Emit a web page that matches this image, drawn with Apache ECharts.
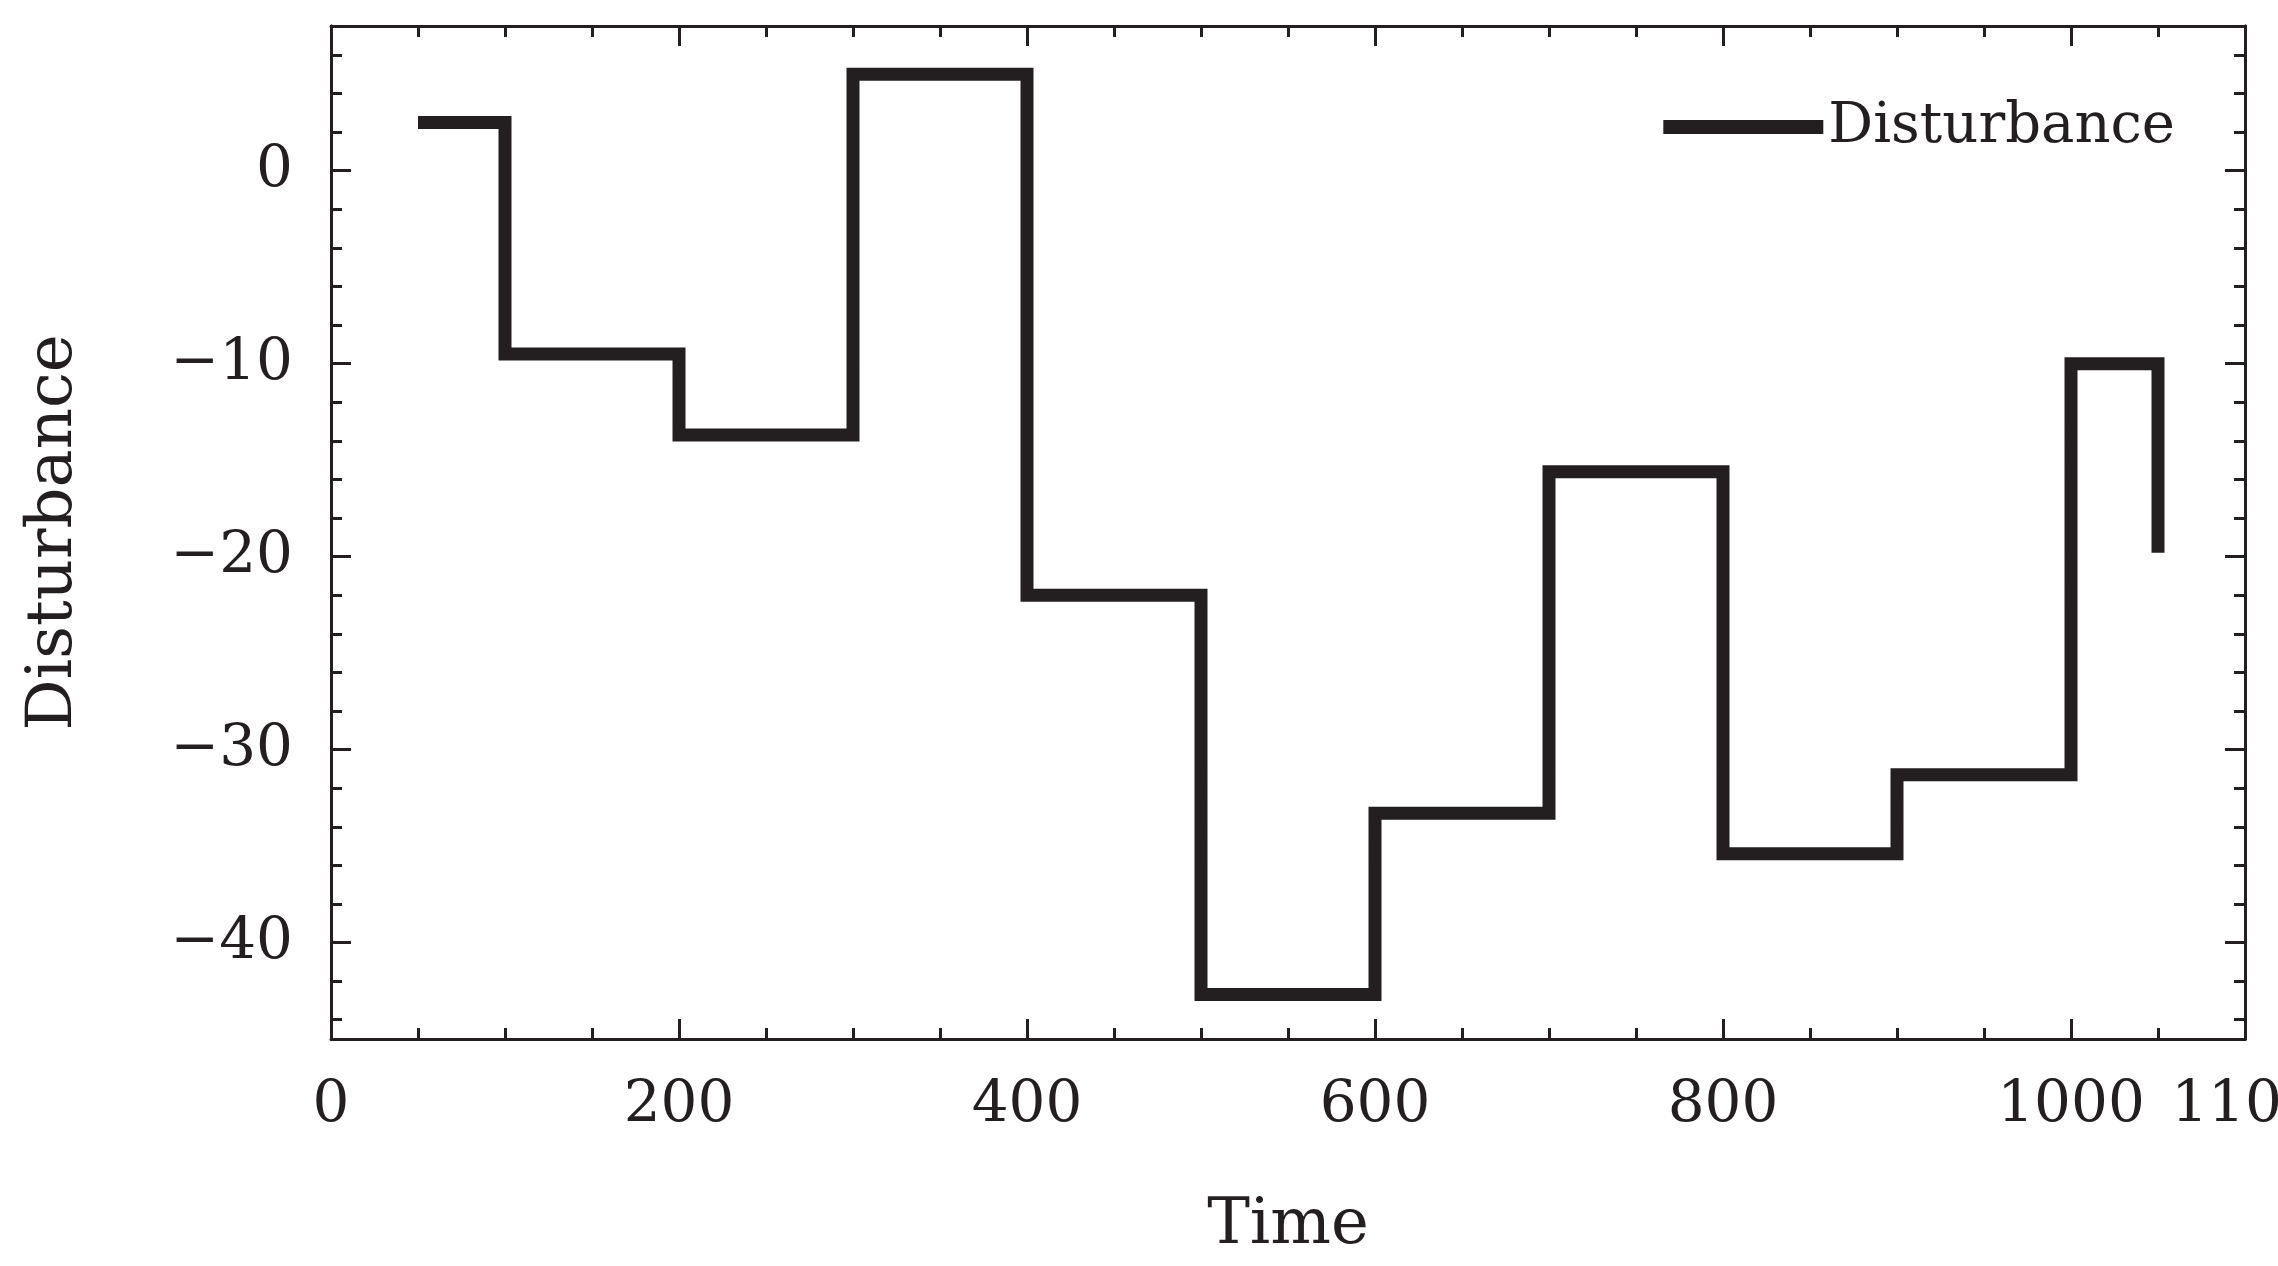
<!DOCTYPE html>
<html lang="en">
<head>
  <meta charset="UTF-8">
  <script src="https://cdn.jsdelivr.net/npm/echarts@6/dist/echarts.min.js"></script>
  <title>Disturbance</title>
</head>
<body style="margin:0;background:#fff">
<div id="chart" style="width: 2278px; height: 1266px;"></div>
<script type="text/javascript">
  // step points (value changes at each time)
  let times  = [50, 100, 200, 300, 400, 500, 600, 700, 800, 900, 1000, 1050];
  let values = [2.5, -9.5, -13.7, 5, -22, -42.7, -33.3, -15.6, -35.4, -31.3, -10, -19.8];
  let yMajor = [-40, -30, -20, -10, 0];
  let yMinor = [];
  for (let v = -44; v <= 6; v += 2) yMinor.push(v);

  let font = 'DejaVu Serif';
  let ink = '#231f20';
  let minus = function (v) { return String(v).replace('-', '\u2212'); };

  function yAxis(pos, ticks, len, labels) {
    return {
      type: 'value', position: pos, min: -45, max: 7.5,
      axisLine: {show: true, onZero: false, lineStyle: {color: ink, width: 3}},
      axisTick: {show: true, inside: true, length: len, customValues: ticks, lineStyle: {color: ink, width: 3}},
      axisLabel: labels ? {show: true, customValues: yMajor, formatter: minus, fontFamily: font, fontSize: 58, color: ink, margin: 38}
                        : {show: false},
      splitLine: {show: false}
    };
  }

  function xAxis(pos, labels) {
    return {
      type: 'value', position: pos, min: 0, max: 1100, interval: 200,
      name: labels ? 'Time' : '', nameLocation: 'middle', nameGap: 155,
      nameTextStyle: {fontFamily: font, fontSize: 64, color: ink},
      axisLine: {show: true, onZero: false, lineStyle: {color: ink, width: 3}},
      axisTick: {show: true, inside: true, length: 20, lineStyle: {color: ink, width: 3}},
      minorTick: {show: true, splitNumber: 4, length: 11, lineStyle: {color: ink, width: 3}},
      axisLabel: {show: labels, formatter: minus, fontFamily: font, fontSize: 58, color: ink, margin: 38},
      splitLine: {show: false}, minorSplitLine: {show: false}
    };
  }

  let yLeft = yAxis('left', yMajor, 20, true);
  yLeft.name = 'Disturbance';
  yLeft.nameLocation = 'middle';
  yLeft.nameGap = 245;
  yLeft.nameTextStyle = {fontFamily: font, fontSize: 64, color: ink};

  let chart = echarts.init(document.getElementById('chart'));
  chart.setOption({
    animation: false,
    backgroundColor: '#fff',
    grid: {left: 331, right: 33, top: 26, bottom: 227, outerBoundsMode: 'none'},
    legend: {
      right: 98, top: 94, itemWidth: 160, itemHeight: 14, itemGap: 55,
      textStyle: {fontFamily: font, fontSize: 56, color: ink},
      data: [{name: 'Disturbance', icon: 'rect'}]
    },
    xAxis: [xAxis('bottom', true), xAxis('top', false)],
    yAxis: [yLeft, yAxis('left', yMinor, 11, false), yAxis('right', yMajor, 20, false), yAxis('right', yMinor, 11, false)],
    series: [{
      name: 'Disturbance', type: 'line', step: 'end', symbol: 'none',
      data: times.map(function (t, i) { return [t, values[i]]; }),
      itemStyle: {color: ink},
      lineStyle: {color: ink, width: 13, join: 'miter', cap: 'butt'}
    }]
  });
</script>
</body>
</html>
